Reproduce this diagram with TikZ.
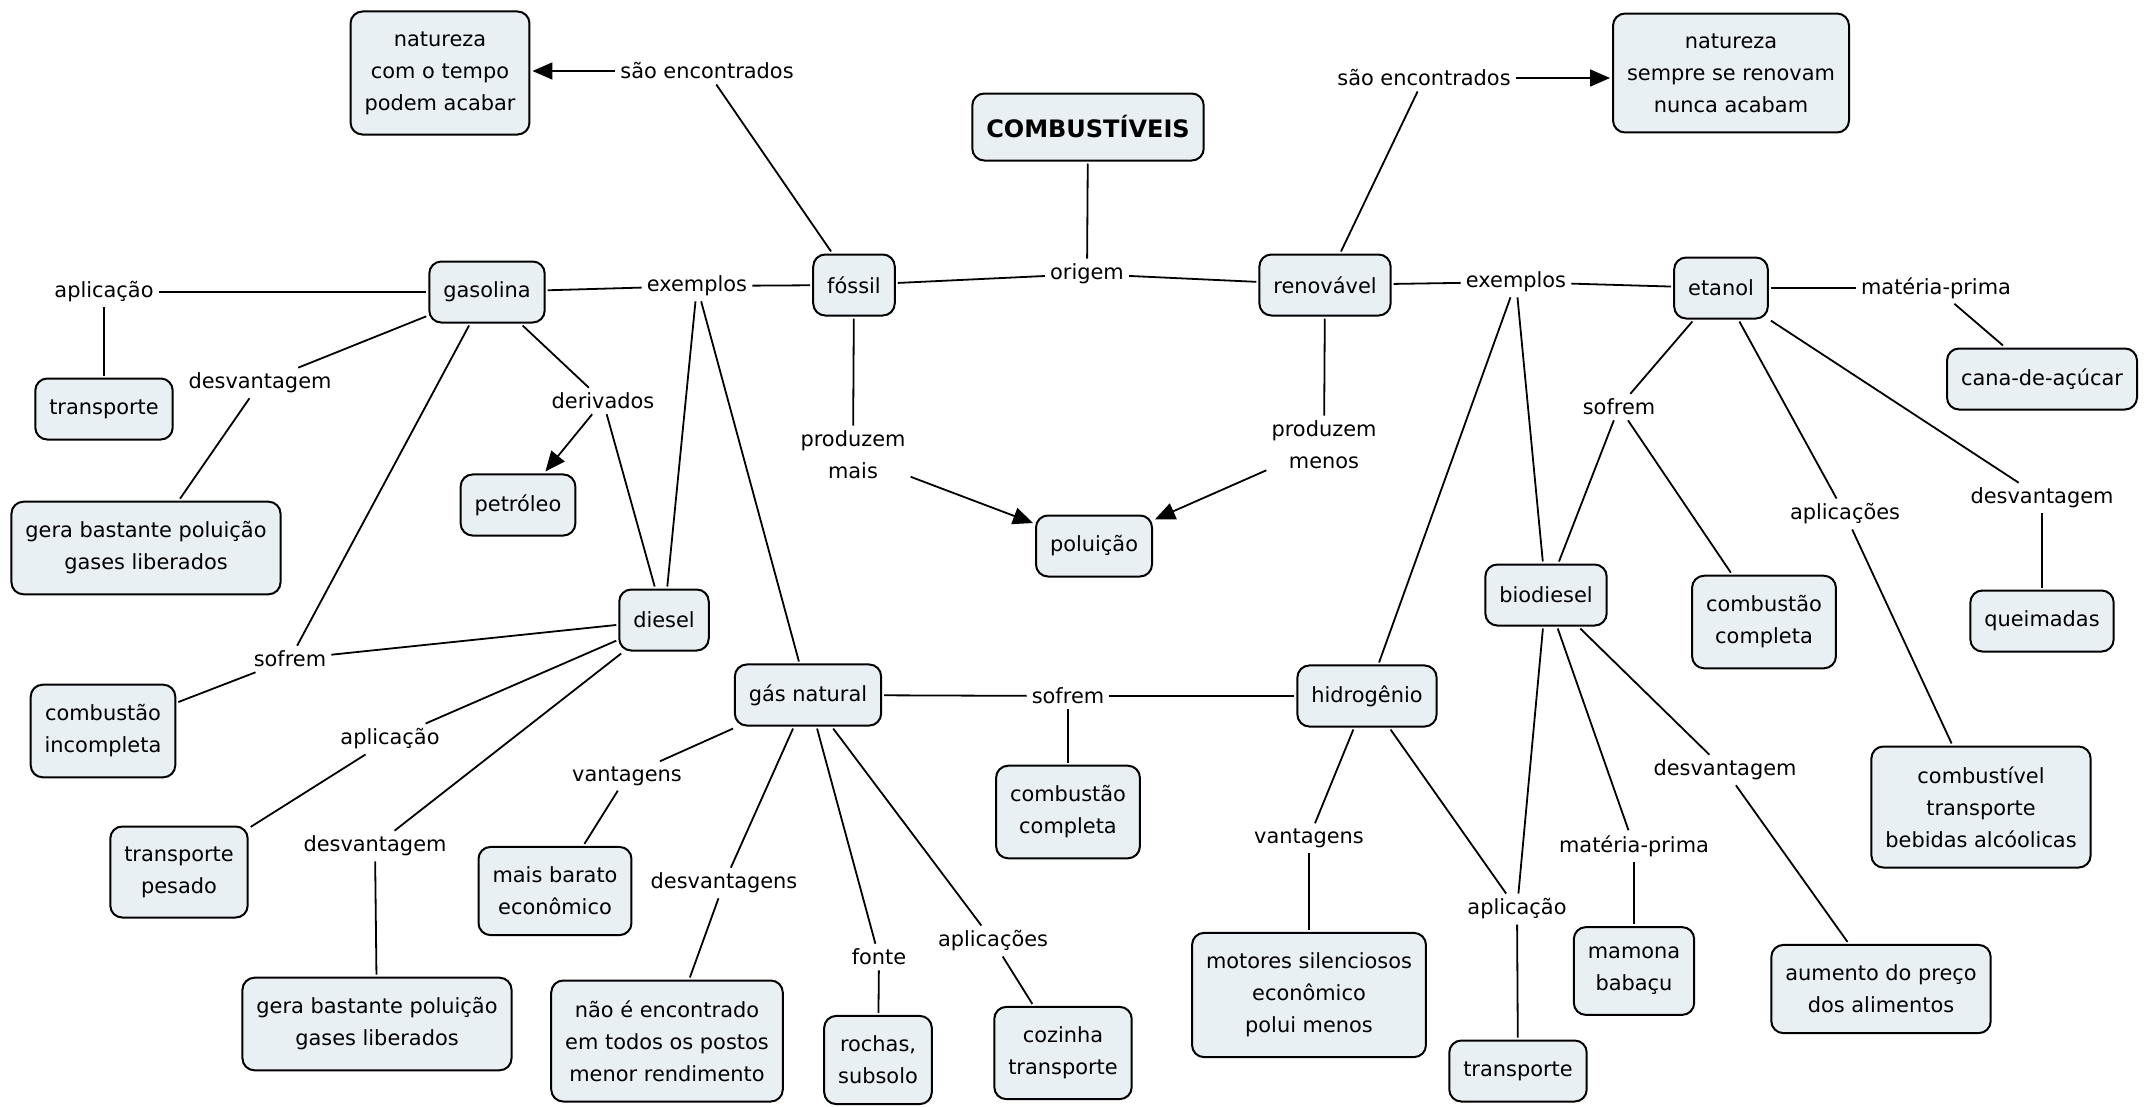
\documentclass[tikz,border=0pt]{standalone}
\usepackage{fontspec}
\setmainfont{DejaVu Sans}
\usetikzlibrary{arrows.meta}
\definecolor{boxfill}{RGB}{233,240,243}
\begin{document}
\begin{tikzpicture}[x=1pt,y=-1pt,
  concept/.style={draw=black, line width=2pt, fill=boxfill, rounded corners=12pt,
    align=center, inner xsep=14pt, inner ysep=20pt, minimum height=61pt,
    outer sep=3pt, font=\fontsize{20.9}{32}\selectfont},
  phrase/.style={align=center, inner sep=5pt, font=\fontsize{20.9}{32}\selectfont},
  link/.style={line width=1.8pt},
  arrowlink/.style={link, -{Triangle[length=20pt,width=17pt]}}]
\useasboundingbox (0,0) rectangle (2147,1106);

% concepts
\node[concept] (nat1) at (440,73) {natureza\\com o tempo\\podem acabar};
\node[concept] (nat2) at (1731,73) {natureza\\sempre se renovam\\nunca acabam};
\node[concept, font=\fontsize{24}{30}\selectfont\bfseries, inner ysep=12pt, minimum height=67pt] (comb) at (1088,127) {COMBUSTÍVEIS};
\node[concept] (fossil) at (854,285) {fóssil};
\node[concept] (renov) at (1325,285) {renovável};
\node[concept] (gasol) at (487,292) {gasolina};
\node[concept] (etanol) at (1721,288) {etanol};
\node[concept] (transpL) at (104,409) {transporte};
\node[concept] (geraL) at (146,548) {gera bastante poluição\\gases liberados};
\node[concept] (petro) at (518,505) {petróleo};
\node[concept] (polui) at (1094,546) {poluição};
\node[concept] (diesel) at (664,620) {diesel};
\node[concept] (combInc) at (103,731) {combustão\\incompleta};
\node[concept] (gasnat) at (808,695) {gás natural};
\node[concept] (combCompM) at (1068,812) {combustão\\completa};
\node[concept] (hidro) at (1367,696) {hidrogênio};
\node[concept] (biod) at (1546,595) {biodiesel};
\node[concept] (combCompR) at (1764,622) {combustão\\completa};
\node[concept] (cana) at (2042,379) {cana-de-açúcar};
\node[concept] (queim) at (2042,621) {queimadas};
\node[concept] (combust) at (1981,807) {combustível\\transporte\\bebidas alcóolicas};
\node[concept] (transpP) at (179,872) {transporte\\pesado};
\node[concept] (geraB) at (377,1024) {gera bastante poluição\\gases liberados};
\node[concept] (barato) at (555,891) {mais barato\\econômico};
\node[concept] (naoE) at (667,1041) {não é encontrado\\em todos os postos\\menor rendimento};
\node[concept] (rochas) at (878,1060) {rochas,\\subsolo};
\node[concept] (cozinha) at (1063,1053) {cozinha\\transporte};
\node[concept] (motores) at (1309,995) {motores silenciosos\\econômico\\polui menos};
\node[concept] (transpB) at (1518,1071) {transporte};
\node[concept] (mamona) at (1634,971) {mamona\\babaçu};
\node[concept] (aumento) at (1881,989) {aumento do preço\\dos alimentos};

% linking phrases
\node[phrase] (saoL) at (707,71) {são encontrados};
\node[phrase] (saoR) at (1424,78) {são encontrados};
\node[phrase] (origem) at (1087,274) {origem};
\node[phrase] (exL) at (697,286) {exemplos};
\node[phrase] (exR) at (1516,282) {exemplos};
\node[phrase] (mpE) at (1936,288) {matéria-prima};
\node[phrase] (aplG) at (104,292) {aplicação};
\node[phrase] (desG) at (260,383) {desvantagem};
\node[phrase] (deriv) at (603,401) {derivados};
\node[phrase] (prodMais) at (853,455) {produzem\\mais};
\node[phrase] (prodMenos) at (1324,445) {produzem\\menos};
\node[phrase] (sofE) at (1619,407) {sofrem};
\node[phrase] (aplsE) at (1845,514) {aplicações};
\node[phrase] (desE) at (2042,498) {desvantagem};
\node[phrase] (sofD) at (290,659) {sofrem};
\node[phrase] (aplD) at (390,739) {aplicação};
\node[phrase] (desD) at (375,846) {desvantagem};
\node[phrase] (sofG) at (1068,696) {sofrem};
\node[phrase] (vanG) at (627,776) {vantagens};
\node[phrase] (desvG) at (724,883) {desvantagens};
\node[phrase] (fonte) at (879,957) {fonte};
\node[phrase] (aplsG) at (993,941) {aplicações};
\node[phrase] (vanH) at (1309,838) {vantagens};
\node[phrase] (aplH) at (1517,909) {aplicação};
\node[phrase] (mpB) at (1634,846) {matéria-prima};
\node[phrase] (desB) at (1725,770) {desvantagem};

% connectors
\draw[link] (comb) -- (origem);
\draw[link] (origem) -- (fossil);
\draw[link] (origem) -- (renov);
\draw[link] (fossil) -- (saoL);
\draw[arrowlink] (saoL) -- (saoL -| nat1.east);
\draw[link] (renov) -- (saoR);
\draw[arrowlink] (saoR) -- (saoR -| nat2.west);
\draw[link] (fossil) -- (exL);
\draw[link] (exL) -- (gasol);
\draw[link] (exL) -- (diesel);
\draw[link] (exL) -- (gasnat);
\draw[link] (fossil) -- (prodMais);
\draw[arrowlink] (prodMais) -- (polui);
\draw[link] (renov) -- (prodMenos);
\draw[arrowlink] (prodMenos) -- (polui);
\draw[link] (renov) -- (exR);
\draw[link] (exR) -- (etanol);
\draw[link] (exR) -- (hidro);
\draw[link] (exR) -- (biod);
\draw[link] (etanol) -- (mpE);
\draw[link] (mpE) -- (cana);
\draw[link] (etanol) -- (sofE);
\draw[link] (sofE) -- (biod);
\draw[link] (sofE) -- (combCompR);
\draw[link] (etanol) -- (aplsE);
\draw[link] (aplsE) -- (combust);
\draw[link] (etanol) -- (desE);
\draw[link] (desE) -- (queim);
\draw[link] (gasol) -- (aplG);
\draw[link] (aplG) -- (transpL);
\draw[link] (gasol) -- (desG);
\draw[link] (desG) -- (geraL);
\draw[link] (gasol) -- (deriv);
\draw[arrowlink] (deriv) -- (petro);
\draw[link] (deriv) -- (diesel);
\draw[link] (gasol) -- (sofD);
\draw[link] (diesel) -- (sofD);
\draw[link] (sofD) -- (combInc);
\draw[link] (diesel) -- (aplD);
\draw[link] (aplD) -- (transpP);
\draw[link] (diesel) -- (desD);
\draw[link] (desD) -- (geraB);
\draw[link] (gasnat) -- (sofG);
\draw[link] (sofG) -- (hidro);
\draw[link] (sofG) -- (combCompM);
\draw[link] (gasnat) -- (vanG);
\draw[link] (vanG) -- (barato);
\draw[link] (gasnat) -- (desvG);
\draw[link] (desvG) -- (naoE);
\draw[link] (gasnat) -- (fonte);
\draw[link] (fonte) -- (rochas);
\draw[link] (gasnat) -- (aplsG);
\draw[link] (aplsG) -- (cozinha);
\draw[link] (hidro) -- (vanH);
\draw[link] (vanH) -- (motores);
\draw[link] (hidro) -- (aplH);
\draw[link] (biod) -- (aplH);
\draw[link] (aplH) -- (transpB);
\draw[link] (biod) -- (mpB);
\draw[link] (mpB) -- (mamona);
\draw[link] (biod) -- (desB);
\draw[link] (desB) -- (aumento);
\end{tikzpicture}
\end{document}
